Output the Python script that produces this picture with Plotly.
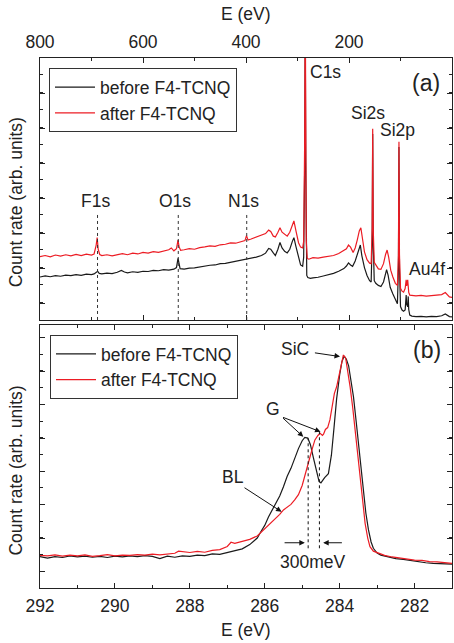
import plotly.graph_objects as go

# ---------------- panel (a): survey ----------------
surv_E_before = [800, 790, 780, 770, 760, 750, 740, 730, 720, 710, 700, 695, 690, 688, 685, 680, 670, 660, 650, 642, 636, 630, 620, 610, 600, 590, 580, 570, 560, 550, 540, 535, 532, 530, 528, 520, 510, 500, 490, 480, 470, 460, 450, 440, 430, 420, 410, 400, 398, 390, 380, 370, 362, 356, 352, 347, 343, 338, 334, 330, 325, 320, 315, 310, 307, 303, 298, 294, 290, 288, 286, 285, 284, 283, 282, 280, 275, 270, 260, 250, 240, 230, 220, 210, 205, 201, 197, 193, 188, 184, 180, 178, 175, 170, 165, 160, 157, 155, 154, 153, 151, 148, 143, 138, 133, 129, 127, 124, 120, 115, 110, 106, 104, 103, 102, 100, 97, 94, 91, 89, 88, 86, 85, 84, 82, 78, 70, 60, 50, 40, 30, 20, 13, 10, 5, 0]
surv_I_before = [16.4, 16.8, 16.5, 16.9, 16.7, 17.1, 16.9, 17.3, 17.0, 17.5, 17.3, 17.6, 18.3, 18.6, 17.8, 17.6, 17.9, 17.7, 18.2, 18.9, 18.3, 18.0, 18.4, 18.2, 18.6, 18.5, 18.9, 18.8, 19.2, 19.0, 19.4, 20.0, 23.5, 21.5, 19.6, 19.4, 19.8, 19.9, 20.3, 20.5, 20.9, 21.0, 21.5, 21.6, 22.0, 22.4, 22.6, 23.0, 23.3, 23.5, 24.0, 24.6, 25.5, 27.3, 27.0, 25.6, 24.6, 27.0, 29.6, 27.5, 26.2, 25.6, 27.0, 30.0, 31.4, 28.0, 23.5, 21.0, 20.5, 24.0, 60.0, 112.0, 60.0, 25.0, 17.0, 16.2, 15.9, 16.1, 16.3, 16.8, 17.2, 17.8, 18.6, 19.6, 20.6, 21.8, 21.0, 20.5, 22.5, 25.0, 28.0, 28.6, 24.5, 20.0, 17.0, 15.0, 14.5, 30.0, 71.0, 30.0, 15.0, 14.0, 13.2, 12.8, 14.5, 18.0, 19.2, 17.0, 12.5, 10.0, 7.5, 6.2, 20.0, 66.0, 20.0, 5.1, 3.8, 3.3, 3.8, 9.5, 6.0, 5.0, 9.0, 4.0, 1.9, 1.5, 1.3, 1.4, 1.2, 1.4, 1.3, 1.6, 2.3, 2.0, 1.3, 1.2]

surv_E_after = [800, 790, 780, 770, 760, 750, 740, 730, 720, 710, 700, 695, 691, 689, 687, 684, 680, 670, 660, 650, 640, 630, 620, 610, 600, 590, 580, 570, 560, 550, 545, 540, 535, 532, 530, 527, 520, 510, 500, 490, 480, 470, 460, 450, 440, 430, 420, 410, 402, 399, 396, 390, 380, 370, 362, 356, 352, 347, 343, 338, 334, 330, 325, 320, 315, 310, 307, 303, 298, 294, 290, 288, 286, 285, 284, 283, 281, 278, 270, 260, 250, 240, 230, 220, 210, 205, 201, 197, 192, 188, 184, 180, 177, 174, 170, 165, 160, 157, 155, 154, 153, 151, 148, 143, 138, 133, 129, 126, 123, 119, 115, 110, 106, 104, 103, 102, 100, 97, 94, 91, 89, 88, 86, 84, 82, 78, 70, 60, 50, 40, 30, 20, 13, 10, 5, 0]
surv_I_after = [24.2, 24.6, 24.1, 24.8, 24.4, 24.9, 24.5, 25.0, 24.6, 25.1, 24.8, 25.2, 28.5, 31.5, 27.0, 25.0, 24.6, 24.9, 24.5, 25.0, 25.3, 24.9, 25.5, 25.2, 25.8, 25.5, 26.1, 25.8, 26.4, 26.8, 27.5, 26.4, 27.2, 30.5, 28.0, 26.6, 26.8, 27.2, 27.0, 27.6, 27.9, 28.3, 28.1, 28.7, 28.9, 29.4, 29.3, 29.9, 30.3, 32.2, 30.5, 30.9, 31.6, 32.2, 33.0, 34.3, 33.8, 32.0, 31.7, 33.5, 35.2, 33.5, 32.6, 32.0, 33.5, 36.5, 37.8, 34.0, 29.5, 27.8, 27.5, 30.0, 70.0, 125.0, 70.0, 30.0, 23.5, 23.2, 23.8, 23.6, 24.0, 24.4, 24.6, 25.4, 26.4, 27.2, 28.6, 27.8, 25.8, 27.5, 30.5, 34.0, 35.2, 31.0, 26.0, 23.0, 21.7, 21.5, 35.0, 73.0, 35.0, 22.0, 21.0, 19.5, 19.3, 21.5, 25.0, 26.7, 24.0, 19.0, 16.5, 14.0, 13.2, 25.0, 68.0, 25.0, 12.1, 11.0, 10.6, 12.0, 15.3, 13.0, 15.3, 10.5, 9.5, 9.3, 9.2, 9.4, 9.1, 9.3, 9.4, 9.7, 10.5, 10.0, 8.8, 8.6]

surv_peak_labels = ["F1s", "O1s", "N1s"]
surv_peak_E = [688.3, 531.5, 398.6]

# ---------------- panel (b): C1s core level ----------------
c1s_E_before = [292.0, 291.8, 291.6, 291.4, 291.2, 291.0, 290.8, 290.6, 290.4, 290.2, 290.0, 289.8, 289.6, 289.4, 289.2, 289.0, 288.8, 288.6, 288.4, 288.2, 288.0, 287.8, 287.6, 287.4, 287.2, 287.0, 286.8, 286.6, 286.4, 286.2, 286.1, 286.0, 285.9, 285.8, 285.7, 285.6, 285.5, 285.4, 285.3, 285.2, 285.1, 285.0, 284.93, 284.85, 284.78, 284.7, 284.62, 284.55, 284.5, 284.4, 284.3, 284.22, 284.15, 284.08, 284.0, 283.94, 283.88, 283.82, 283.76, 283.7, 283.63, 283.56, 283.5, 283.43, 283.36, 283.3, 283.23, 283.16, 283.1, 283.0, 282.9, 282.7, 282.5, 282.3, 282.1, 281.9, 281.7, 281.5, 281.3, 281.1, 281.0]
c1s_I_before = [11.9, 11.4, 11.9, 11.6, 12.2, 11.8, 12.1, 11.7, 12.0, 11.6, 12.1, 11.8, 12.2, 11.9, 12.3, 12.0, 11.2, 12.1, 11.7, 12.2, 12.0, 12.5, 12.3, 13.0, 12.8, 13.5, 14.0, 14.9, 16.5, 19.0, 21.5, 23.8, 27.0, 29.5, 32.5, 35.0, 38.5, 42.5, 45.5, 49.5, 53.0, 56.0, 57.3, 57.0, 54.5, 49.5, 44.5, 40.5, 40.0, 42.0, 43.5, 50.5, 61.0, 72.0, 81.0, 86.0, 88.2, 87.0, 84.5, 79.0, 72.7, 63.5, 55.0, 45.5, 36.0, 28.5, 22.1, 17.5, 15.1, 13.3, 12.5, 11.8, 11.2, 10.9, 10.4, 10.1, 9.6, 9.4, 9.2, 9.0, 9.1]

c1s_E_after = [292.0, 291.8, 291.6, 291.4, 291.2, 291.0, 290.8, 290.6, 290.4, 290.2, 290.0, 289.8, 289.6, 289.4, 289.2, 289.0, 288.8, 288.6, 288.4, 288.3, 288.2, 288.0, 287.8, 287.6, 287.4, 287.2, 287.0, 286.9, 286.8, 286.6, 286.4, 286.2, 286.0, 285.9, 285.8, 285.7, 285.6, 285.5, 285.4, 285.3, 285.2, 285.1, 285.0, 284.93, 284.86, 284.79, 284.72, 284.66, 284.58, 284.52, 284.46, 284.43, 284.38, 284.32, 284.26, 284.2, 284.14, 284.08, 284.02, 283.96, 283.9, 283.84, 283.78, 283.72, 283.65, 283.59, 283.52, 283.45, 283.38, 283.32, 283.25, 283.19, 283.1, 283.0, 282.8, 282.6, 282.4, 282.2, 282.0, 281.8, 281.6, 281.4, 281.2, 281.0]
c1s_I_after = [12.4, 12.2, 12.6, 12.1, 12.5, 12.2, 12.6, 12.0, 12.3, 12.7, 12.2, 12.5, 12.4, 12.7, 12.5, 12.9, 12.6, 12.8, 13.2, 14.0, 13.8, 13.5, 13.9, 13.6, 14.3, 14.6, 15.8, 17.4, 17.0, 17.8, 18.5, 19.8, 22.5, 24.0, 25.4, 26.8, 28.0, 29.7, 30.8, 31.8, 33.5, 35.5, 39.0, 42.3, 46.0, 49.9, 53.5, 56.3, 58.0, 58.8, 58.0, 58.5, 60.3, 61.0, 63.9, 69.0, 74.0, 76.5, 80.5, 85.5, 88.6, 87.5, 82.5, 76.5, 68.5, 60.1, 50.5, 41.1, 32.0, 24.6, 19.0, 15.7, 14.0, 13.4, 12.4, 11.8, 11.4, 11.2, 10.6, 10.5, 10.0, 9.9, 9.6, 9.4]

g_peak_E = [284.84, 284.54]
g_peak_top = [56.9, 60.1]

series_names = ["before F4-TCNQ", "after F4-TCNQ"]
BLACK = "#1a1a1a"
RED = "#ec1c24"
FONT = "Liberation Sans, Arial, sans-serif"
AX = "#222222"
FS = 17.5

fig = go.Figure()
fig.add_trace(go.Scatter(x=surv_E_before, y=surv_I_before, mode="lines", name=series_names[0],
                         line=dict(color=BLACK, width=1.2), xaxis="x", yaxis="y", legend="legend"))
fig.add_trace(go.Scatter(x=surv_E_after, y=surv_I_after, mode="lines", name=series_names[1],
                         line=dict(color=RED, width=1.2), xaxis="x", yaxis="y", legend="legend"))
fig.add_trace(go.Scatter(x=c1s_E_before, y=c1s_I_before, mode="lines", name=series_names[0],
                         line=dict(color=BLACK, width=1.2), xaxis="x2", yaxis="y2", legend="legend2"))
fig.add_trace(go.Scatter(x=c1s_E_after, y=c1s_I_after, mode="lines", name=series_names[1],
                         line=dict(color=RED, width=1.2), xaxis="x2", yaxis="y2", legend="legend2"))

common_axis = dict(showgrid=False, zeroline=False, showline=True, linecolor=AX, linewidth=1,
                   ticks="inside", ticklen=5, tickcolor=AX, mirror="ticks")

shapes = []
for e in surv_peak_E:
    shapes.append(dict(type="line", xref="x", yref="y", x0=e, x1=e, y0=0, y1=41.2,
                       line=dict(color="#333333", width=1, dash="dot")))
for e, t in zip(g_peak_E, g_peak_top):
    shapes.append(dict(type="line", xref="x2", yref="y2", x0=e, x1=e, y0=15.1, y1=t,
                       line=dict(color="#111111", width=1, dash="dot")))

ann = []
def txt(x, y, s, xr="x", yr="y", size=FS, angle=0):
    ann.append(dict(x=x, y=y, xref=xr, yref=yr, text=s, showarrow=False, textangle=angle,
                    font=dict(size=size, color="#222222", family=FONT), xanchor="center", yanchor="middle"))

txt(246.6, 94.8, "C1s")
txt(50.5, 90.3, "(a)", size=23)
txt(162.5, 79.1, "Si2s")
txt(105.4, 72.5, "Si2p")
for lab, e in zip(surv_peak_labels, [693.2, 537.9, 405.2]):
    txt(e, 45.4, lab)
txt(49.1, 19.4, "Au4f")

txt(285.2, 91.0, "SiC", "x2", "y2")
txt(281.67, 90.5, "(b)", "x2", "y2", size=23)
txt(285.79, 67.9, "G", "x2", "y2")
txt(286.86, 42.3, "BL", "x2", "y2")
txt(284.70, 10.0, "300meV", "x2", "y2")

def arrow(x0, y0, x1, y1):
    ann.append(dict(x=x1, y=y1, ax=x0, ay=y0, xref="x2", yref="y2", axref="x2", ayref="y2",
                    text="", showarrow=True, arrowhead=2, arrowsize=1.1, arrowwidth=1,
                    arrowcolor="#111111", standoff=0, startstandoff=0))

arrow(284.70, 89.5, 283.99, 88.0)
arrow(285.55, 65.1, 284.97, 57.5)
arrow(285.55, 65.1, 284.51, 59.4)
arrow(286.58, 38.5, 285.55, 29.0)
arrow(285.51, 17.2, 284.93, 17.2)
arrow(283.90, 17.2, 284.44, 17.2)

# axis titles as paper-referenced text
txt(-0.058, 0.728, "Count rate (arb. units)", "paper", "paper", angle=-90)
txt(-0.058, 0.2217, "Count rate (arb. units)", "paper", "paper", angle=-90)
txt(0.5, 1.083, "E (eV)", "paper", "paper")
txt(0.5, -0.079, "E (eV)", "paper", "paper")

legend_style = dict(bgcolor="rgba(255,255,255,0)", bordercolor="#333333", borderwidth=1,
                    font=dict(size=FS, color="#222222", family=FONT), xanchor="left", yanchor="top",
                    tracegroupgap=0, itemwidth=40)

fig.update_layout(
    width=454, height=643,
    margin=dict(l=40, r=2, t=58, b=55),
    paper_bgcolor="white", plot_bgcolor="white",
    font=dict(family=FONT, size=FS, color="#222222"),
    xaxis=dict(common_axis, range=[800, 0], side="top", anchor="y", dtick=200, tick0=0,
               minor=dict(dtick=100, ticks="inside", ticklen=3, tickcolor=AX),
               tickfont=dict(size=FS), ticklabelstandoff=2),
    yaxis=dict(common_axis, range=[0, 100], domain=[0.5057, 1.0], anchor="x", showticklabels=False,
               tick0=6.37, dtick=13.36, minor=dict(dtick=6.68, ticks="inside", ticklen=3, tickcolor=AX)),
    xaxis2=dict(common_axis, range=[292, 281], anchor="y2", side="bottom", dtick=2, tick0=280,
                minor=dict(dtick=1, ticks="inside", ticklen=3, tickcolor=AX),
                tickfont=dict(size=FS), ticklabelstandoff=2),
    yaxis2=dict(common_axis, range=[0, 100], domain=[0.0, 0.4962], anchor="x2", showticklabels=False,
                tick0=6.2, dtick=12.7, minor=dict(dtick=6.35, ticks="inside", ticklen=3, tickcolor=AX)),
    legend=dict(legend_style, x=0.0218, y=0.9806),
    legend2=dict(legend_style, x=0.0243, y=0.4774),
    shapes=shapes,
    annotations=ann,
    showlegend=True,
)

fig.write_html("out.html", config={"displayModeBar": False},
               post_script="document.body.style.margin='0';document.body.style.overflow='hidden';")
